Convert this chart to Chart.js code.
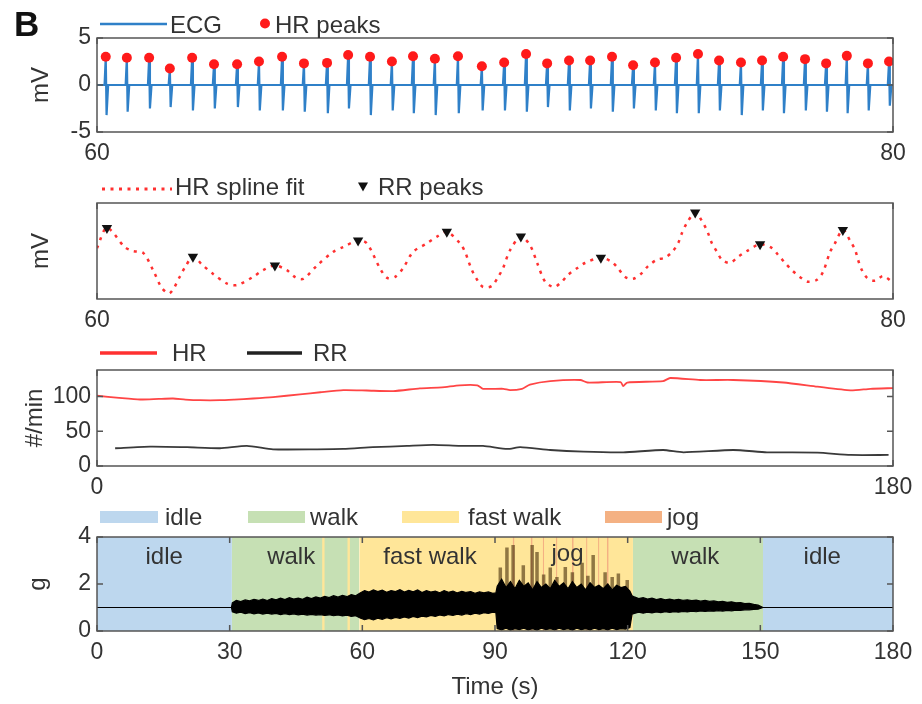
<!DOCTYPE html>
<html>
<head>
<meta charset="utf-8">
<script src="https://cdn.jsdelivr.net/npm/chart.js@4.4.1/dist/chart.umd.min.js"></script>
<style>
body { margin: 0; background: #fff; }
#page { position: relative; width: 922px; height: 704px; overflow: hidden; font-family: "Liberation Sans", Arial, sans-serif; color: #333; }
canvas { position: absolute; left: 0; }
.lg { position: absolute; font-size: 24px; line-height: 24px; white-space: nowrap; }
#swatches { position: absolute; left: 0; top: 0; }
</style>
</head>
<body>
<div id="page">
  <canvas id="ecgChart" width="922" height="170" style="top:0px"></canvas>
  <canvas id="splineChart" width="922" height="165" style="top:170px"></canvas>
  <canvas id="rateChart" width="922" height="165" style="top:335px"></canvas>
  <canvas id="accChart" width="922" height="204" style="top:500px"></canvas>

  <svg id="swatches" width="922" height="704">
    <line x1="100" y1="24" x2="167" y2="24" stroke="#2f80c8" stroke-width="2.5"/>
    <circle cx="265" cy="23.5" r="5" fill="#ff1a1a"/>
    <line x1="102" y1="189" x2="172" y2="189" stroke="#ff3030" stroke-width="3" stroke-dasharray="3 5.5"/>
    <polygon points="358,182.5 368,182.5 363,191.5" fill="#111"/>
    <line x1="100" y1="353" x2="157" y2="353" stroke="#ff3030" stroke-width="3.5"/>
    <line x1="247" y1="353" x2="302" y2="353" stroke="#222" stroke-width="3.5"/>
    <rect x="100" y="511" width="58" height="12" fill="#bdd7ee"/>
    <rect x="248" y="511" width="57" height="12" fill="#c6e0b4"/>
    <rect x="402" y="511" width="57" height="12" fill="#ffe699"/>
    <rect x="605" y="511" width="57" height="12" fill="#f4b183"/>
  </svg>

  <div class="lg" style="left:14px;top:6px;font-size:35px;line-height:35px;font-weight:bold;color:#111">B</div>
  <div class="lg" style="left:170px;top:13px">ECG</div>
  <div class="lg" style="left:275px;top:13px">HR peaks</div>
  <div class="lg" style="left:175px;top:175px">HR spline fit</div>
  <div class="lg" style="left:378px;top:175px">RR peaks</div>
  <div class="lg" style="left:172px;top:341px">HR</div>
  <div class="lg" style="left:313px;top:341px">RR</div>
  <div class="lg" style="left:165px;top:505px">idle</div>
  <div class="lg" style="left:310px;top:505px">walk</div>
  <div class="lg" style="left:468px;top:505px">fast walk</div>
  <div class="lg" style="left:667px;top:505px">jog</div>
</div>

<script>
// ---- ECG, 60-80 s ----
const ecgPeakTime = [60.22, 60.75, 61.31, 61.83, 62.39, 62.94, 63.52, 64.07, 64.65, 65.2, 65.78, 66.31, 66.86, 67.41, 67.94, 68.49,
    69.07, 69.67, 70.23, 70.78, 71.31, 71.86, 72.39, 72.94, 73.47, 74.02, 74.55, 75.1, 75.63, 76.18, 76.71, 77.24, 77.79, 78.32, 78.84, 79.37, 79.9];
const ecgPeakMv = [3.0, 2.9, 2.9, 1.75, 2.9, 2.2, 2.2, 2.5, 3.0, 2.3, 2.35, 3.2, 3.0, 2.5, 3.05, 2.8,
    3.05, 2.0, 2.4, 3.3, 2.3, 2.6, 2.6, 3.0, 2.1, 2.4, 2.9, 3.3, 2.6, 2.4, 2.6, 3.0, 2.75, 2.3, 3.1, 2.3, 2.5];
const ecgTroughMv = [-3.2, -2.85, -2.5, -2.35, -2.7, -2.5, -2.35, -2.7, -2.7, -2.85, -3.0, -2.5, -3.2, -2.7, -3.0, -3.2,
    -3.0, -2.7, -2.7, -2.85, -2.35, -2.7, -2.5, -2.85, -2.5, -2.7, -3.0, -3.0, -2.7, -3.2, -2.7, -3.0, -2.7, -2.85, -3.0, -2.7, -2.2];

// ---- HR spline fit and RR peaks (arbitrary mV units) ----
const splineTime = [60.0, 60.25, 60.7, 60.9, 61.16, 61.41, 61.63, 61.83, 62.09, 62.21, 62.41, 62.66, 62.89, 63.27, 63.52, 63.92, 64.17, 64.47,
    64.77, 64.97, 65.18, 65.53, 65.93, 66.18, 66.56, 66.78, 67.11, 67.29, 67.49, 67.69, 67.94, 68.29, 68.54, 68.79, 69.12, 69.25, 69.32,
    69.42, 69.55, 69.7, 69.92, 70.08, 70.2, 70.38, 70.65, 70.88, 71.06, 71.26, 71.48, 71.68, 71.83, 72.06, 72.26, 72.66, 72.94, 73.09,
    73.27, 73.47, 73.69, 73.84, 74.07, 74.27, 74.45, 74.6, 74.7, 74.82, 75.03, 75.23, 75.35, 75.45, 75.58, 75.7, 75.9, 76.11, 76.33,
    76.66, 76.96, 77.11, 77.29, 77.46, 77.66, 77.86, 78.09, 78.24, 78.42, 78.54, 78.74, 78.92, 79.05, 79.12, 79.22, 79.35, 79.55, 79.75, 79.97];
const splineValue = [5.3, 7.4, 5.4, 5.0, 4.8, 3.0, 1.15, 0.6, 2.4, 3.3, 4.4, 3.5, 2.7, 1.6, 1.45, 2.3, 3.0, 3.5,
    3.0, 2.3, 2.1, 3.5, 4.9, 5.4, 6.1, 5.8, 3.2, 2.2, 2.3, 3.2, 4.9, 5.8, 6.5, 7.0, 5.8, 4.9, 4.1,
    3.0, 2.0, 1.25, 1.35, 2.3, 3.2, 5.1, 6.5, 5.6, 3.75, 1.8, 1.25, 1.8, 2.5, 3.2, 3.75, 4.3, 3.85, 3.2,
    2.3, 2.1, 2.7, 3.4, 4.1, 4.3, 4.9, 5.8, 6.9, 7.9, 9.0, 7.9, 6.9, 5.8, 4.9, 4.1, 3.75, 4.4, 5.0,
    5.7, 5.3, 4.6, 3.75, 3.0, 2.3, 1.8, 2.0, 2.8, 4.9, 5.8, 7.2, 6.1, 5.1, 4.1, 3.0, 2.2, 1.9, 2.4, 1.8];
const rrPeakTime = [60.25, 62.41, 64.47, 66.56, 68.79, 70.65, 72.66, 75.03, 76.66, 78.74];
const rrPeakValue = [7.4, 4.4, 3.5, 6.1, 7.0, 6.5, 4.3, 9.0, 5.7, 7.2];

// ---- HR and RR rates, 0-180 s ----
const hrTime = [0, 5, 9.7, 14, 17.2, 20, 23.3, 27.8, 31, 35.3, 39.8, 45.9, 50.5, 55.7, 61, 67, 73, 78, 82, 86, 87.3, 91.9, 93.4,
    96.1, 97.9, 102.5, 109.3, 110.9, 118.4, 119, 119.9, 128, 129.6, 136.4, 143.9, 155.2, 162.9, 170.4, 174.9, 180];
const hrRate = [101, 98, 95.6, 96.5, 97, 95.5, 94.6, 94.6, 95.5, 97, 99, 103, 106, 109, 108.5, 107.7, 111.6, 113, 116, 116, 111, 111, 109,
    111, 117, 122, 123.6, 120, 120.7, 115, 120, 122, 126.5, 123.6, 123.6, 120, 114, 108.7, 111, 112];
const rrTime = [4.1, 12, 20.4, 27.8, 33.9, 39.8, 49.8, 55.7, 62.4, 70.1, 76, 82.1, 87.3, 92.8, 95.7, 102.5, 110, 119, 128, 132.6,
    143.9, 151.5, 162.9, 170.4, 179];
const rrRate = [25.5, 27.8, 27, 25.5, 28.9, 24, 24, 24.5, 27, 28.9, 30.3, 28.9, 28.9, 24.5, 27, 23, 20.6, 19.7, 23, 19.7,
    23, 19.7, 19.2, 15.9, 15.9];

// ---- activity labels and acceleration envelope, 0-180 s ----
const idleIntervals = [[0, 30.5], [150.6, 180]];
const walkIntervals = [[30.5, 59.3], [121.2, 150.6]];
const fastWalkIntervals = [[50.9, 51.5], [56.6, 57.2], [59.3, 121.2]];
const jogIntervals = [[94.0, 94.4], [98.1, 98.5], [100.8, 101.1], [103.8, 104.1], [107.4, 107.8], [110.6, 110.9], [113.3, 113.6], [115.3, 115.7]];
const regionLabelText = ['idle', 'walk', 'fast walk', 'jog', 'walk', 'idle'];
const regionLabelTime = [15.2, 43.9, 75.3, 106.4, 135.3, 164];
const regionLabelG = [3.15, 3.15, 3.15, 3.25, 3.15, 3.15];

const accTime = [0, 30.4,
    30.6, 31.5, 32.5, 33.5, 34.5, 35.5, 36.5, 37.5, 38.5, 39.5, 40.5, 41.5, 42.5, 43.5, 44.5, 45.5, 46.5, 47.5, 48.5, 49.5,
    50.5, 51.5, 52.5, 53.5, 54.5, 55.5, 56.5, 57.5, 58.5,
    59.5, 60.5, 61.5, 62.5, 63.5, 64.5, 65.5, 66.5, 67.5, 68.5, 69.5, 70.5, 71.5, 72.5, 73.5, 74.5, 75.5, 76.5, 77.5, 78.5,
    79.5, 80.5, 81.5, 82.5, 83.5, 84.5, 85.5, 86.5, 87.5, 88.5, 89.5,
    90.2,
    90.5, 91.5, 92.5, 93.5, 94.5, 95.5, 96.5, 97.5, 98.5, 99.5, 100.5, 101.5, 102.5, 103.5, 104.5, 105.5, 106.5, 107.5, 108.5,
    109.5, 110.5, 111.5, 112.5, 113.5, 114.5, 115.5, 116.5, 117.5, 118.5, 119.5, 120.5,
    121,
    121.5, 122.5, 123.5, 124.5, 125.5, 126.5, 127.5, 128.5, 129.5, 130.5, 131.5, 132.5, 133.5, 134.5, 135.5, 136.5, 137.5,
    138.5, 139.5, 140.5, 141.5, 142.5, 143.5, 144.5, 145.5, 146.5, 147.5, 148.5, 149.5,
    150.6, 180];
const accUpper = [1, 1,
    1.2, 1.3, 1.25, 1.32, 1.28, 1.35, 1.3, 1.36, 1.3, 1.38, 1.33, 1.4, 1.34, 1.42, 1.36, 1.4, 1.35, 1.44, 1.38, 1.45,
    1.4, 1.47, 1.42, 1.5, 1.44, 1.52, 1.46, 1.55, 1.5,
    1.62, 1.72, 1.66, 1.75, 1.68, 1.74, 1.65, 1.72, 1.68, 1.76, 1.66, 1.73, 1.67, 1.75, 1.64, 1.72, 1.66, 1.7, 1.63, 1.72,
    1.65, 1.7, 1.62, 1.69, 1.64, 1.68, 1.6, 1.67, 1.62, 1.66, 1.6,
    1.62,
    1.9, 2.2, 1.85, 2.1, 1.8, 2.15, 1.9, 2.05, 1.75, 2.1, 1.85, 2.0, 1.8, 2.15, 1.9, 2.05, 1.8, 2.1, 1.85,
    2.0, 1.75, 2.05, 1.85, 1.95, 1.8, 2.0, 1.75, 1.95, 1.85, 1.9, 1.7,
    1.5,
    1.45, 1.38, 1.42, 1.36, 1.4, 1.34, 1.38, 1.33, 1.36, 1.32, 1.35, 1.3, 1.33, 1.29, 1.31, 1.27, 1.3,
    1.26, 1.28, 1.24, 1.26, 1.22, 1.24, 1.2, 1.21, 1.17, 1.18, 1.13, 1.1,
    1, 1];
const accLower = [1, 1,
    0.82, 0.76, 0.8, 0.74, 0.78, 0.73, 0.77, 0.72, 0.76, 0.72, 0.75, 0.7, 0.74, 0.7, 0.73, 0.69, 0.72, 0.68, 0.71, 0.68,
    0.7, 0.66, 0.69, 0.65, 0.68, 0.64, 0.67, 0.62, 0.65,
    0.55, 0.48, 0.53, 0.47, 0.55, 0.5, 0.57, 0.52, 0.58, 0.54, 0.6, 0.55, 0.62, 0.57, 0.63, 0.6, 0.66, 0.62, 0.68, 0.64,
    0.7, 0.66, 0.72, 0.68, 0.74, 0.7, 0.76, 0.72, 0.78, 0.75, 0.8,
    0.78,
    0.1, 0.05, 0.12, 0.04, 0.1, 0.06, 0.12, 0.05, 0.1, 0.04, 0.12, 0.06, 0.1, 0.05, 0.12, 0.06, 0.1, 0.04, 0.12,
    0.06, 0.1, 0.05, 0.12, 0.06, 0.1, 0.05, 0.12, 0.06, 0.1, 0.08, 0.15,
    0.72,
    0.75, 0.8, 0.76, 0.8, 0.77, 0.81, 0.78, 0.82, 0.79, 0.82, 0.8, 0.83, 0.81, 0.84, 0.82, 0.85, 0.83,
    0.86, 0.84, 0.87, 0.85, 0.88, 0.86, 0.89, 0.88, 0.9, 0.9, 0.92, 0.93,
    1, 1];
const jogSpikeTime = [91.2, 92.7, 94.1, 96.4, 98.4, 99.5, 101, 102.5, 104, 105.9, 107.5, 109.7, 111, 112.2, 114.9, 116.5, 117.9, 119.9];
const jogSpikeTop = [2.7, 3.55, 3.66, 2.8, 3.66, 3.36, 2.4, 2.7, 2.3, 2.72, 2.5, 2.9, 2.35, 3.23, 2.5, 2.3, 2.45, 2.17];

Chart.defaults.font.family = '"Liberation Sans", Arial, sans-serif';
Chart.defaults.font.size = 23;
Chart.defaults.color = '#333';

const toPoints = (xs, ys) => xs.map((x, i) => ({x: x, y: ys[i]}));

function bandPoints(intervals, top) {
    const pts = [];
    intervals.forEach(([a, b]) => pts.push({x: a, y: top}, {x: b, y: top}, {x: b, y: null}));
    return pts;
}

// box around the axes with inward tick marks, like matlab
const boxPlugin = {
    id: 'matlabBox',
    afterDatasetsDraw(chart, args, opts) {
        const {ctx, chartArea: a, scales} = chart;
        ctx.save();
        ctx.strokeStyle = '#555';
        ctx.lineWidth = 1.5;
        ctx.strokeRect(a.left, a.top, a.right - a.left, a.bottom - a.top);
        ctx.beginPath();
        if (opts.xTicks) {
            scales.x.ticks.forEach(t => {
                const px = scales.x.getPixelForValue(t.value);
                ctx.moveTo(px, a.bottom); ctx.lineTo(px, a.bottom - 6);
                ctx.moveTo(px, a.top); ctx.lineTo(px, a.top + 6);
            });
        }
        if (opts.yTicks) {
            scales.y.ticks.forEach(t => {
                const py = scales.y.getPixelForValue(t.value);
                ctx.moveTo(a.left, py); ctx.lineTo(a.left + 6, py);
                ctx.moveTo(a.right, py); ctx.lineTo(a.right - 6, py);
            });
        }
        ctx.stroke();
        ctx.restore();
    }
};

const regionTextPlugin = {
    id: 'regionText',
    afterDatasetsDraw(chart, args, opts) {
        if (!opts.text) return;
        const {ctx, scales} = chart;
        ctx.save();
        ctx.font = '24px "Liberation Sans", Arial, sans-serif';
        ctx.fillStyle = '#333';
        ctx.textAlign = 'center';
        ctx.textBaseline = 'middle';
        opts.text.forEach((s, i) => {
            ctx.fillText(s, scales.x.getPixelForValue(opts.x[i]), scales.y.getPixelForValue(opts.y[i]));
        });
        ctx.restore();
    }
};

function xScale(min, max, ticks, axisHeight, extra) {
    return Object.assign({
        type: 'linear', min: min, max: max,
        grid: {display: false, drawTicks: false},
        border: {display: false},
        ticks: {padding: 8, maxRotation: 0, autoSkip: false},
        afterBuildTicks: s => { s.ticks = ticks.map(v => ({value: v})); },
        afterFit: s => { s.height = axisHeight; }
    }, extra || {});
}

function yScale(min, max, ticks, title, titlePad, showTicks) {
    return {
        min: min, max: max,
        grid: {display: false, drawTicks: false},
        border: {display: false},
        ticks: {padding: 6, display: showTicks},
        afterBuildTicks: s => { s.ticks = ticks.map(v => ({value: v})); },
        afterFit: s => { s.width = 97; },
        title: {display: true, text: title, font: {size: 24}, padding: {top: titlePad, bottom: 0}}
    };
}

function baseOptions(padTop, scales, extraPlugins) {
    return {
        responsive: false,
        animation: false,
        layout: {padding: {left: 0, right: 29, top: padTop, bottom: 0}},
        plugins: Object.assign({legend: {display: false}, tooltip: {enabled: false},
            matlabBox: {xTicks: true, yTicks: true}}, extraPlugins || {}),
        scales: scales
    };
}

// panel 1: ECG trace built from the beat peaks and troughs
const ecgPoints = [{x: 60, y: 0}];
ecgPeakTime.forEach((t, i) => {
    ecgPoints.push({x: t - 0.03, y: 0}, {x: t, y: ecgPeakMv[i]}, {x: t + 0.02, y: ecgTroughMv[i]}, {x: t + 0.06, y: 0});
});
ecgPoints.push({x: 80, y: 0});

new Chart(document.getElementById('ecgChart'), {
    type: 'line',
    data: {
        datasets: [
            {label: 'HR peaks', data: toPoints(ecgPeakTime, ecgPeakMv), showLine: false, pointRadius: 5,
                pointBackgroundColor: '#ff1a1a', pointBorderWidth: 0, order: 1},
            {label: 'ECG', data: ecgPoints, borderColor: '#2f80c8', borderWidth: 2.2, pointRadius: 0, tension: 0, order: 2}
        ]
    },
    options: baseOptions(38, {
        x: xScale(60, 80, [60, 80], 38),
        y: yScale(-5, 5, [-5, 0, 5], 'mV', 27, true)
    }),
    plugins: [boxPlugin]
});

// panel 2: HR spline fit with RR peaks
new Chart(document.getElementById('splineChart'), {
    type: 'line',
    data: {
        datasets: [
            {label: 'RR peaks', data: toPoints(rrPeakTime, rrPeakValue), showLine: false, pointStyle: 'triangle',
                rotation: 180, pointRadius: 6, pointBackgroundColor: '#111', pointBorderWidth: 0, order: 1},
            {label: 'HR spline fit', data: toPoints(splineTime, splineValue), borderColor: '#ff3030', borderWidth: 2.5,
                borderDash: [3, 5.5], pointRadius: 0, tension: 0.3, order: 2}
        ]
    },
    options: baseOptions(33, {
        x: xScale(60, 80, [60, 80], 36),
        y: yScale(0, 10, [], 'mV', 27, false)
    }),
    plugins: [boxPlugin]
});

// panel 3: HR and RR rates
new Chart(document.getElementById('rateChart'), {
    type: 'line',
    data: {
        datasets: [
            {label: 'HR', data: toPoints(hrTime, hrRate), borderColor: '#ff4545', borderWidth: 1.8, pointRadius: 0, tension: 0.2},
            {label: 'RR', data: toPoints(rrTime, rrRate), borderColor: '#3a3a3a', borderWidth: 1.8, pointRadius: 0, tension: 0.2}
        ]
    },
    options: baseOptions(35, {
        x: xScale(0, 180, [0, 180], 34),
        y: yScale(0, 138, [0, 50, 100], '#/min', 21, true)
    }),
    plugins: [boxPlugin]
});

// panel 4: activity bands and acceleration
new Chart(document.getElementById('accChart'), {
    type: 'line',
    data: {
        datasets: [
            {label: 'idle', data: bandPoints(idleIntervals, 4), fill: 'origin', backgroundColor: '#bdd7ee', borderWidth: 0, pointRadius: 0, order: 13},
            {label: 'walk', data: bandPoints(walkIntervals, 4), fill: 'origin', backgroundColor: '#c6e0b4', borderWidth: 0, pointRadius: 0, order: 12},
            {label: 'fast walk', data: bandPoints(fastWalkIntervals, 4), fill: 'origin', backgroundColor: '#ffe699', borderWidth: 0, pointRadius: 0, order: 11},
            {label: 'jog', data: bandPoints(jogIntervals, 4), fill: 'origin', backgroundColor: '#f4b183', borderWidth: 0, pointRadius: 0, order: 10},
            {label: 'jog spikes', data: jogSpikeTime.flatMap((t, i) => [{x: t, y: 1.8}, {x: t, y: jogSpikeTop[i]}, {x: t, y: null}]),
                borderColor: 'rgba(70,45,10,0.6)', borderWidth: 3.5, pointRadius: 0, order: 5},
            {label: 'acc upper', data: toPoints(accTime, accUpper), fill: '+1', backgroundColor: '#000', borderColor: '#000',
                borderWidth: 1.2, pointRadius: 0, order: 2},
            {label: 'acc lower', data: toPoints(accTime, accLower), borderColor: '#000', borderWidth: 1.2, pointRadius: 0, order: 1}
        ]
    },
    options: baseOptions(37, {
        x: xScale(0, 180, [0, 30, 60, 90, 120, 150, 180], 73, {
            title: {display: true, text: 'Time (s)', font: {size: 24}, padding: {top: 0, bottom: 2}}
        }),
        y: yScale(0, 4, [0, 2, 4], 'g', 24, true)
    }, {regionText: {text: regionLabelText, x: regionLabelTime, y: regionLabelG}}),
    plugins: [boxPlugin, regionTextPlugin]
});
</script>
</body>
</html>
